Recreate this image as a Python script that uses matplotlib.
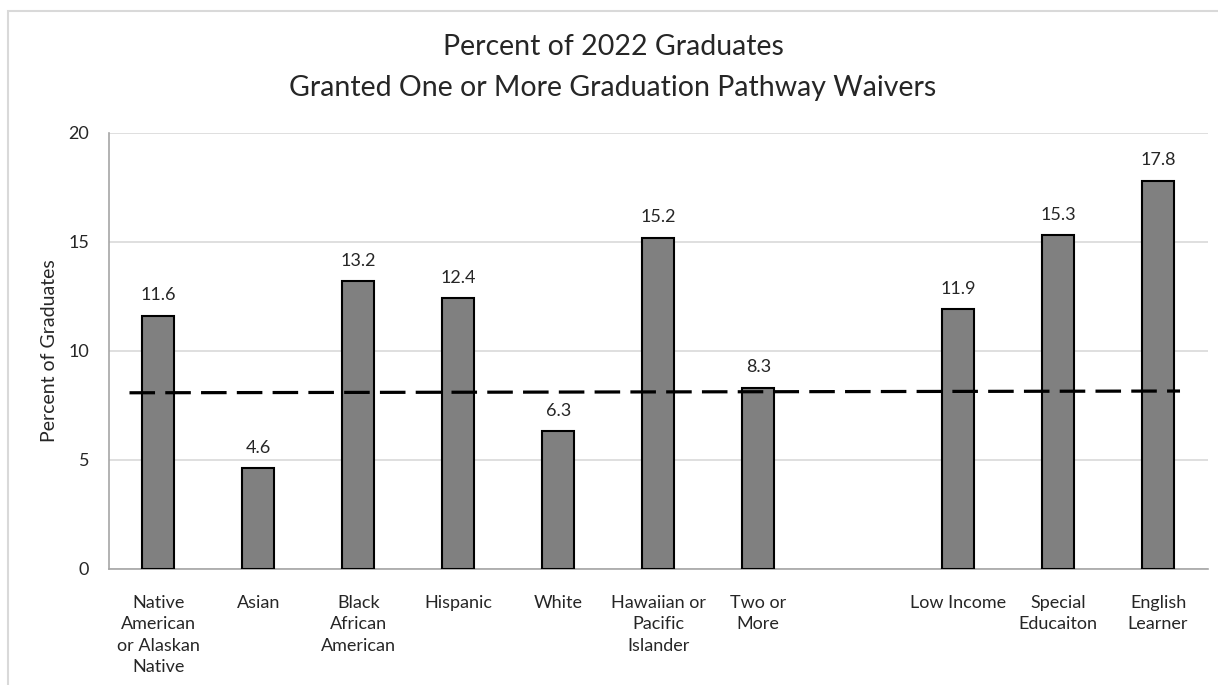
import matplotlib.pyplot as plt
from matplotlib.patches import Rectangle

# data
categories = ['Native\nAmerican\nor Alaskan\nNative', 'Asian', 'Black\nAfrican\nAmerican',
              'Hispanic', 'White', 'Hawaiian or\nPacific\nIslander', 'Two or\nMore', '',
              'Low Income', 'Special\nEducaiton', 'English\nLearner']
values = [11.6, 4.6, 13.2, 12.4, 6.3, 15.2, 8.3, None, 11.9, 15.3, 17.8]
avg_line_values = [8.07, 8.15]
yticks = [0, 5, 10, 15, 20]

plt.rcParams['font.family'] = ['Lato', 'DejaVu Sans']
W, H = 1218, 685
fig = plt.figure(figsize=(W / 100, H / 100), dpi=100)
ax = fig.add_axes([108.5 / W, 1 - 568.5 / H, (1208 - 108.5) / W, (568.5 - 133) / H])

# outer chart border (cut off at right and bottom like the screenshot)
fig.patches.append(Rectangle((8 / W, -0.1), 1.2, 1 - 11 / H + 0.1, transform=fig.transFigure,
                             fill=False, edgecolor='#d9d9d9', linewidth=1.5, zorder=0))

xs = [i for i, v in enumerate(values) if v is not None]
vals = [v for v in values if v is not None]
bars = ax.bar(xs, vals, width=0.32, color='#808080', edgecolor='black', linewidth=1.5, zorder=3)
for x, v in zip(xs, vals):
    ax.annotate('{:.1f}'.format(v), (x, v), xytext=(0, 9), textcoords='offset points',
                ha='center', va='bottom', fontsize=13, color='#262626')

line, = ax.plot([-0.29, 10.22], avg_line_values, color='black', linewidth=2.3, zorder=4)
line.set_dashes((8, 3.2))

ax.set_xlim(-0.5, 10.5)
ax.set_ylim(0, 20)
ax.set_yticks(yticks)
ax.set_xticks(range(len(categories)))
ax.set_xticklabels(categories, fontsize=13, linespacing=1.42, color='#262626')
ax.tick_params(axis='x', length=0, pad=19)
ax.tick_params(axis='y', length=0, pad=14, labelsize=13, labelcolor='#262626')
ax.yaxis.grid(True, color='#d9d9d9', linewidth=1.2)
ax.set_axisbelow(True)
for s in ['top', 'right']:
    ax.spines[s].set_visible(False)
ax.spines['left'].set_color('#a6a6a6')
ax.spines['bottom'].set_color('#a6a6a6')
ax.spines['left'].set_linewidth(1.2)
ax.spines['bottom'].set_linewidth(1.2)

ax.set_ylabel('Percent of Graduates', fontsize=14, color='#262626')
ax.yaxis.set_label_coords(-50 / 1099.5, 0.5)

fig.text(613 / W, 1 - 47 / H, 'Percent of 2022 Graduates', ha='center', va='center',
         fontsize=20.5, color='#262626')
fig.text(613 / W, 1 - 88 / H, 'Granted One or More Graduation Pathway Waivers', ha='center',
         va='center', fontsize=20.5, color='#262626')

plt.savefig('out.png', dpi=100)
